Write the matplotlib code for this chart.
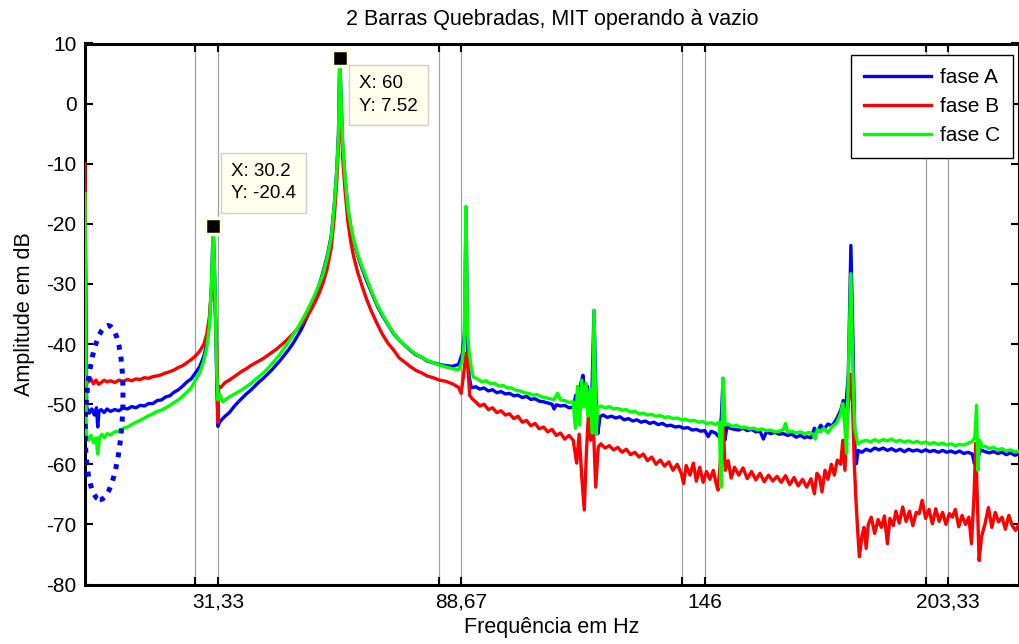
import matplotlib
matplotlib.use("Agg")
import matplotlib.pyplot as plt
from matplotlib.patches import Ellipse
import numpy as np

plt.rcParams['font.family'] = ['Liberation Sans', 'DejaVu Sans']
plt.rcParams['axes.unicode_minus'] = False

# espectro: (frequencia em Hz, amplitude em dB)
fase_a = [
    (0.0, -16.0), (0.4, -50.5), (1.0, -51.5), (1.6, -50.8), (2.2, -51.8), (2.7, -50.6), (3.0, -53.8), (3.3, -51.2),
    (3.8, -50.9), (4.5, -51.4), (5.2, -50.8), (6.0, -51.2), (7.0, -50.9), (8.0, -51.1), (9.0, -50.6), (10.0, -50.8),
    (11.0, -50.4), (12.0, -50.6), (13.0, -50.2), (14.0, -50.3), (15.0, -49.9), (16.0, -49.9), (17.0, -49.4),
    (18.0, -49.3), (19.0, -48.8), (20.0, -48.6), (21.0, -48.0), (22.0, -47.6), (23.0, -47.0), (24.0, -46.3),
    (25.0, -45.8), (26.0, -44.8), (27.0, -43.8), (28.0, -42.0), (28.7, -39.8), (29.3, -36.5), (29.8, -30.0),
    (30.2, -20.4), (30.6, -30.0), (31.0, -45.0), (31.3, -53.7), (31.7, -53.0), (32.3, -52.5), (33.0, -52.0),
    (34.0, -51.4), (35.0, -50.5), (36.0, -49.7), (37.0, -49.0), (38.0, -48.3), (39.0, -47.7), (40.0, -47.0),
    (41.0, -46.3), (42.0, -45.7), (43.0, -45.0), (44.0, -44.3), (45.0, -43.5), (46.0, -42.7), (47.0, -41.8),
    (48.0, -40.9), (49.0, -39.9), (50.0, -38.7), (51.0, -37.5), (52.0, -36.0), (53.0, -34.4), (54.0, -32.6),
    (55.0, -30.5), (56.0, -28.2), (57.0, -25.5), (58.0, -22.0), (58.7, -17.0), (59.3, -11.0), (59.7, -5.0),
    (60.0, 7.52), (60.4, -1.0), (60.7, -7.0), (61.2, -12.0), (61.9, -17.3), (62.6, -20.5), (63.3, -22.9),
    (64.2, -25.2), (65.2, -27.3), (66.3, -29.4), (67.5, -31.4), (68.8, -33.6), (70.0, -35.2), (71.3, -36.7),
    (72.7, -38.3), (74.0, -39.3), (75.3, -40.2), (76.7, -41.1), (78.0, -41.8), (79.3, -42.2), (80.6, -42.8),
    (82.0, -43.1), (83.5, -43.4), (85.0, -43.6), (86.5, -43.7), (88.0, -43.4), (88.9, -41.5), (89.4, -38.0),
    (89.75, -17.5), (90.1, -40.0), (90.5, -45.5), (91.0, -47.3), (92.0, -47.1), (93.0, -47.5), (94.0, -47.3),
    (95.0, -47.8), (96.0, -47.6), (97.0, -48.1), (98.0, -47.9), (99.0, -48.3), (100.0, -48.2), (101.0, -48.6),
    (102.0, -48.5), (103.0, -48.9), (104.0, -48.7), (105.0, -49.2), (106.0, -49.1), (107.0, -49.5), (108.0, -49.6),
    (109.0, -49.8), (110.0, -50.0), (110.5, -50.8), (111.0, -50.1), (112.0, -50.3), (113.0, -50.2), (114.0, -50.6),
    (115.0, -50.5), (115.6, -48.5), (116.2, -51.5), (116.8, -46.5), (117.3, -45.2), (117.8, -49.0), (118.3, -47.0),
    (118.8, -51.0), (119.4, -48.0), (119.9, -34.4), (120.4, -50.0), (120.8, -54.9), (121.3, -52.1), (122.0, -51.8),
    (123.0, -52.2), (124.0, -52.0), (125.0, -52.3), (126.0, -52.1), (127.0, -52.6), (128.0, -52.4), (129.0, -52.8),
    (130.0, -52.6), (131.0, -53.0), (132.0, -52.8), (133.0, -53.2), (134.0, -53.0), (135.0, -53.4), (136.0, -53.2),
    (137.0, -53.6), (138.0, -53.5), (139.0, -53.8), (140.0, -53.7), (141.0, -54.0), (142.0, -53.9), (143.0, -54.3),
    (144.0, -54.2), (145.0, -54.5), (146.0, -54.4), (146.8, -55.4), (147.5, -54.5), (148.5, -54.8), (149.4, -55.5),
    (149.9, -52.0), (150.3, -45.7), (150.7, -56.0), (151.2, -53.8), (152.0, -54.0), (153.0, -54.2), (154.0, -54.3),
    (155.0, -54.0), (156.0, -54.4), (157.0, -54.2), (158.0, -54.6), (159.0, -54.5), (159.8, -55.8), (160.5, -54.6),
    (161.5, -54.9), (162.5, -54.7), (163.5, -55.0), (164.5, -54.9), (165.5, -55.2), (166.5, -55.0), (167.5, -55.5),
    (168.5, -55.2), (169.5, -55.6), (170.0, -55.4), (171.0, -55.6), (171.8, -54.0), (172.5, -54.6), (173.3, -53.5),
    (174.0, -54.2), (175.0, -53.3), (176.0, -53.6), (177.0, -52.5), (178.0, -51.0), (178.6, -49.4), (179.2, -50.5),
    (179.8, -45.0), (180.4, -23.6), (180.9, -40.0), (181.4, -58.5), (181.7, -59.9), (182.1, -57.7), (183.0, -58.0),
    (184.0, -57.5), (185.0, -57.8), (186.0, -57.3), (187.0, -57.6), (188.0, -57.3), (189.0, -57.7), (190.0, -57.4),
    (191.0, -57.8), (192.0, -57.5), (193.0, -57.9), (194.0, -57.5), (195.0, -57.8), (196.0, -57.6), (197.0, -57.9),
    (198.0, -57.6), (199.0, -57.9), (200.0, -57.7), (201.0, -58.0), (202.0, -57.7), (203.0, -58.0), (204.0, -57.8),
    (205.0, -58.1), (206.0, -57.8), (207.0, -58.2), (208.0, -58.0), (209.0, -58.3), (209.5, -59.9), (210.0, -57.0),
    (210.5, -58.5), (211.0, -57.6), (212.0, -57.9), (213.0, -58.1), (214.0, -57.9), (215.0, -58.2), (216.0, -58.0),
    (217.0, -58.4), (218.0, -58.1), (219.0, -58.5), (220.0, -58.3),
]

fase_b = [
    (0.0, -10.0), (0.3, -46.0), (0.8, -46.3), (1.4, -45.8), (2.0, -46.6), (2.6, -46.0), (3.2, -46.7), (3.8, -46.4),
    (4.5, -46.0), (5.2, -46.3), (6.0, -46.1), (7.0, -46.4), (8.0, -46.0), (9.0, -46.2), (10.0, -45.9), (11.0, -46.1),
    (12.0, -45.8), (13.0, -45.9), (14.0, -45.6), (15.0, -45.7), (16.0, -45.4), (17.0, -45.3), (18.0, -45.1),
    (19.0, -44.8), (20.0, -44.6), (21.0, -44.3), (22.0, -43.9), (23.0, -43.6), (24.0, -43.1), (25.0, -42.6),
    (26.0, -42.0), (27.0, -41.2), (28.0, -40.0), (28.7, -38.3), (29.3, -35.5), (29.8, -31.0), (30.2, -29.0),
    (30.6, -33.0), (31.0, -40.0), (31.3, -53.0), (31.5, -47.0), (32.0, -47.2), (33.0, -46.4), (34.0, -46.0),
    (35.0, -45.5), (36.0, -45.0), (37.0, -44.5), (38.0, -44.1), (39.0, -43.6), (40.0, -43.2), (41.0, -42.8),
    (42.0, -42.4), (43.0, -41.9), (44.0, -41.4), (45.0, -40.9), (46.0, -40.3), (47.0, -39.7), (48.0, -39.0),
    (49.0, -38.3), (50.0, -37.5), (51.0, -36.7), (52.0, -35.7), (53.0, -34.6), (54.0, -33.3), (55.0, -31.8),
    (56.0, -30.0), (57.0, -27.6), (58.0, -24.0), (58.7, -19.0), (59.3, -13.0), (59.7, -7.0), (60.0, 5.0),
    (60.4, -3.0), (60.7, -9.0), (61.2, -14.0), (61.9, -19.5), (62.6, -23.0), (63.3, -25.5), (64.2, -28.0),
    (65.2, -30.2), (66.3, -32.5), (67.5, -34.6), (68.8, -36.6), (70.0, -38.3), (71.3, -39.8), (72.7, -41.0),
    (74.0, -42.3), (75.3, -43.0), (76.7, -43.8), (78.0, -44.4), (79.3, -44.8), (80.6, -45.3), (82.0, -45.6),
    (83.5, -46.0), (85.0, -46.2), (86.5, -46.6), (88.0, -47.2), (88.6, -48.2), (89.2, -45.0), (89.75, -41.5),
    (90.2, -44.0), (90.6, -48.5), (91.2, -49.1), (92.0, -49.6), (93.0, -50.3), (94.0, -50.0), (95.0, -50.9),
    (96.0, -50.6), (97.0, -51.4), (98.0, -51.1), (99.0, -51.8), (100.0, -51.6), (101.0, -52.4), (102.0, -52.0),
    (103.0, -53.0), (104.0, -52.7), (105.0, -53.6), (106.0, -53.2), (107.0, -54.1), (108.0, -53.8), (109.0, -54.6),
    (110.0, -54.2), (111.0, -55.2), (112.0, -54.8), (113.0, -55.8), (114.0, -55.2), (115.0, -56.0), (115.8, -59.8),
    (116.4, -55.0), (117.0, -62.0), (117.6, -67.6), (118.1, -58.0), (118.6, -51.5), (119.1, -56.0), (119.6, -51.0),
    (120.3, -63.8), (120.9, -57.1), (121.5, -56.6), (122.5, -57.3), (123.5, -56.9), (124.5, -57.6), (125.5, -57.2),
    (126.5, -58.0), (127.5, -57.5), (128.5, -58.4), (129.5, -58.0), (130.5, -58.8), (131.5, -58.3), (132.5, -59.4),
    (133.5, -58.8), (134.5, -60.0), (135.5, -59.3), (136.5, -60.3), (137.5, -59.6), (138.5, -61.0), (139.5, -60.0),
    (140.5, -61.6), (141.0, -63.2), (141.6, -60.2), (142.5, -61.8), (143.3, -59.8), (144.0, -62.8), (144.8, -60.5),
    (145.6, -63.0), (146.4, -61.2), (147.2, -62.5), (148.0, -61.0), (148.6, -63.0), (149.1, -64.3), (149.6, -60.0),
    (150.3, -53.0), (150.8, -61.0), (151.5, -59.4), (152.2, -62.3), (153.0, -60.5), (154.0, -61.8), (155.0, -60.6),
    (156.0, -62.4), (157.0, -61.2), (158.0, -62.6), (159.0, -61.5), (160.0, -62.9), (161.0, -61.8), (162.0, -62.8),
    (163.0, -62.0), (164.0, -63.0), (165.0, -61.9), (166.0, -63.4), (167.0, -62.2), (168.0, -63.6), (169.0, -62.5),
    (170.0, -63.8), (171.0, -62.4), (171.8, -64.9), (172.4, -61.5), (173.0, -62.1), (173.6, -64.6), (174.3, -61.0),
    (175.0, -62.5), (175.8, -60.0), (176.5, -61.8), (177.2, -59.3), (178.0, -60.0), (178.5, -56.0), (179.0, -61.0),
    (179.5, -53.0), (180.0, -48.0), (180.4, -45.0), (180.8, -50.0), (181.2, -59.9), (181.6, -66.0), (182.0, -71.0),
    (182.4, -75.4), (183.0, -72.0), (183.5, -70.5), (184.0, -74.0), (184.5, -70.0), (185.2, -68.8), (186.0, -71.5),
    (186.8, -69.2), (187.6, -70.5), (188.3, -68.6), (189.0, -73.2), (189.6, -69.0), (190.4, -70.2), (191.0, -67.8),
    (191.8, -69.8), (192.6, -67.1), (193.4, -69.5), (194.2, -67.8), (195.0, -70.2), (195.8, -68.0), (196.5, -68.2),
    (197.2, -66.0), (198.0, -69.0), (198.8, -67.5), (199.6, -69.9), (200.4, -67.4), (201.2, -69.5), (202.0, -68.0),
    (202.8, -70.0), (203.6, -68.2), (204.3, -68.8), (205.0, -67.5), (205.8, -70.4), (206.6, -68.5), (207.4, -70.0),
    (208.2, -68.8), (208.8, -73.2), (209.4, -65.4), (209.8, -56.5), (210.2, -66.0), (210.6, -76.0), (211.2, -72.0),
    (212.0, -69.9), (212.8, -67.2), (213.6, -70.5), (214.4, -68.0), (215.2, -69.6), (216.0, -68.8), (216.8, -70.8),
    (217.6, -68.5), (218.4, -70.2), (219.2, -71.0), (220.0, -70.0),
]

fase_c = [
    (0.0, -15.0), (0.3, -55.0), (0.8, -56.0), (1.4, -55.2), (2.0, -56.4), (2.6, -55.6), (3.0, -58.3), (3.4, -55.6),
    (4.0, -55.0), (4.6, -55.6), (5.2, -54.9), (6.0, -55.1), (7.0, -54.6), (8.0, -54.5), (9.0, -54.0), (10.0, -53.8),
    (11.0, -53.4), (12.0, -53.0), (13.0, -52.7), (14.0, -52.3), (15.0, -51.9), (16.0, -51.6), (17.0, -51.2),
    (18.0, -51.0), (19.0, -50.6), (20.0, -50.2), (21.0, -49.7), (22.0, -49.3), (23.0, -48.7), (24.0, -48.0),
    (25.0, -47.3), (26.0, -46.0), (27.0, -44.8), (28.0, -42.8), (28.7, -40.5), (29.3, -37.0), (29.8, -30.0),
    (30.2, -20.4), (30.6, -30.0), (31.0, -44.0), (31.3, -49.3), (31.8, -48.4), (32.4, -49.6), (33.0, -49.3),
    (34.0, -48.8), (35.0, -48.4), (36.0, -48.0), (37.0, -47.6), (38.0, -47.1), (39.0, -46.6), (40.0, -46.0),
    (41.0, -45.4), (42.0, -44.8), (43.0, -44.1), (44.0, -43.3), (45.0, -42.5), (46.0, -41.6), (47.0, -40.6),
    (48.0, -39.6), (49.0, -38.5), (50.0, -37.4), (51.0, -36.2), (52.0, -34.9), (53.0, -33.5), (54.0, -32.0),
    (55.0, -30.3), (56.0, -28.5), (57.0, -25.8), (58.0, -22.3), (58.7, -17.0), (59.3, -11.3), (59.7, -5.5),
    (60.0, 7.52), (60.4, -0.5), (60.7, -6.5), (61.2, -11.6), (61.9, -17.2), (62.6, -20.3), (63.3, -22.7),
    (64.2, -25.0), (65.2, -27.0), (66.3, -29.0), (67.5, -31.2), (68.8, -33.4), (70.0, -35.0), (71.3, -36.6),
    (72.7, -38.2), (74.0, -39.3), (75.3, -40.2), (76.7, -41.0), (78.0, -41.7), (79.3, -42.2), (80.6, -42.7),
    (82.0, -43.1), (83.5, -43.5), (85.0, -43.8), (86.5, -44.1), (88.0, -44.3), (88.8, -43.0), (89.3, -40.0),
    (89.75, -17.1), (90.1, -38.0), (90.5, -41.5), (91.0, -44.0), (91.5, -45.5), (92.5, -45.8), (93.5, -46.3),
    (94.5, -46.1), (95.5, -46.6), (96.5, -46.5), (97.5, -47.0), (98.5, -46.9), (99.5, -47.3), (100.5, -47.3),
    (101.5, -47.7), (102.5, -47.8), (103.5, -48.1), (104.5, -48.2), (105.5, -48.5), (106.5, -48.4), (107.5, -48.8),
    (108.5, -48.9), (109.5, -49.1), (110.5, -49.2), (111.3, -48.2), (112.0, -49.3), (113.0, -49.4), (114.0, -49.7),
    (115.0, -49.6), (115.5, -54.0), (116.0, -47.0), (116.5, -53.5), (117.0, -46.0), (117.5, -50.5), (118.0, -46.5),
    (118.5, -52.0), (119.0, -47.5), (119.5, -54.8), (119.9, -34.4), (120.4, -55.0), (120.8, -50.5), (121.5, -50.3),
    (122.5, -50.6), (123.5, -50.4), (124.5, -50.8), (125.5, -50.7), (126.5, -51.0), (127.5, -50.9), (128.5, -51.3),
    (129.5, -51.2), (130.5, -51.6), (131.5, -51.5), (132.5, -51.8), (133.5, -51.7), (134.5, -52.0), (135.5, -51.9),
    (136.5, -52.2), (137.5, -52.1), (138.5, -52.4), (139.5, -52.3), (140.5, -52.6), (141.5, -52.5), (142.5, -52.8),
    (143.5, -52.7), (144.5, -53.0), (145.5, -52.9), (146.5, -53.2), (147.5, -53.1), (148.5, -53.4), (149.4, -53.0),
    (149.8, -63.8), (150.3, -45.7), (150.8, -53.5), (151.5, -53.3), (152.5, -53.7), (153.5, -53.5), (154.5, -53.9),
    (155.5, -53.8), (156.5, -54.1), (157.5, -54.0), (158.5, -54.3), (159.5, -54.1), (160.5, -54.4), (161.5, -54.3),
    (162.5, -54.6), (163.5, -54.5), (164.5, -54.2), (165.0, -53.2), (165.5, -54.6), (166.5, -54.5), (167.5, -54.8),
    (168.5, -54.6), (169.5, -54.9), (170.5, -54.7), (171.5, -55.0), (172.0, -55.8), (172.5, -54.2), (173.3, -54.6),
    (174.0, -54.0), (175.0, -54.8), (176.0, -53.7), (177.0, -53.2), (178.0, -51.5), (178.5, -49.9), (179.0, -54.0),
    (179.4, -58.2), (179.8, -45.0), (180.4, -28.3), (180.9, -45.0), (181.3, -54.0), (182.0, -56.6), (183.0, -56.2),
    (184.0, -56.0), (185.0, -56.3), (186.0, -55.9), (187.0, -56.2), (188.0, -55.9), (189.0, -56.1), (190.0, -55.8),
    (191.0, -56.2), (192.0, -56.0), (193.0, -56.3), (194.0, -56.1), (195.0, -56.4), (196.0, -56.2), (197.0, -56.5),
    (198.0, -56.3), (199.0, -56.6), (200.0, -56.4), (201.0, -56.7), (202.0, -56.5), (203.0, -56.8), (204.0, -56.6),
    (205.0, -56.9), (206.0, -56.7), (207.0, -56.8), (208.0, -56.5), (209.0, -56.2), (209.6, -55.5), (210.0, -50.2),
    (210.3, -61.0), (210.7, -56.0), (211.4, -57.1), (212.0, -57.0), (213.0, -57.4), (214.0, -57.2), (215.0, -57.6),
    (216.0, -57.4), (217.0, -57.8), (218.0, -57.6), (219.0, -57.9), (220.0, -57.8),
]

# ticks / grade vertical
xticks = [26.0, 31.33, 83.5, 88.67, 140.7, 146.0, 198.0, 203.33]
xticklabels = ['', '31,33', '', '88,67', '', '146', '', '203,33']
yticks = [-80, -70, -60, -50, -40, -30, -20, -10, 0, 10]

# data tips
tips = [(30.2, -20.4), (60.0, 7.52)]

fig = plt.figure(figsize=(10.19, 6.44), dpi=100)
ax = fig.add_axes([85/1019, 1-584.5/644, 934/1019, 541/644])

for dados, cor, nome in [(fase_a, '#0000ff', 'fase A'), (fase_b, '#ff0000', 'fase B'), (fase_c, '#00ff00', 'fase C')]:
    f, a = zip(*dados)
    ax.plot(f, a, color=cor, lw=2.4, label=nome, zorder=3)

ax.set_xlim(0, 220)
ax.set_ylim(-80, 10)
ax.set_xticks(xticks)
ax.set_xticklabels(xticklabels)
ax.set_yticks(yticks)
ax.grid(True, axis='x', color='#a0a0a0', lw=0.9)
ax.tick_params(direction='in', length=6, width=1.5, top=True, right=True, labelsize=15, pad=6)
for s in ax.spines.values():
    s.set_linewidth(2.2)

ax.set_title('2 Barras Quebradas, MIT operando à vazio', fontsize=15.5, pad=13)
ax.set_xlabel('Frequência em Hz', fontsize=15.5, labelpad=4)
ax.set_ylabel('Amplitude em dB', fontsize=15.5, labelpad=8)

# marcadores dos data tips
for x, y in tips:
    ax.plot(x, y, marker='s', ms=11, color='black', mec='#fffde0', mew=2.5, zorder=5)

caixa = dict(boxstyle='square,pad=0.55', fc='#ffffee', ec='#d0d0c8', lw=1)
ax.text(34.4, -9.9, 'X: 30.2\nY: -20.4', fontsize=13.5, va='top', ha='left', bbox=caixa, linespacing=1.4, zorder=6)
ax.text(64.5, 4.7, 'X: 60\nY: 7.52', fontsize=13.5, va='top', ha='left', bbox=caixa, linespacing=1.4, zorder=6)

# elipse pontilhada destacando a regiao de baixa frequencia
ax.add_patch(Ellipse((4.5, -51.4), width=8.7, height=29.0, angle=-4, fill=False, ec='#0000ff', lw=3.6,
                     ls=(0, (1, 1.4)), zorder=4))

leg = ax.legend(loc='upper right', bbox_to_anchor=(0.9936, 0.978), fontsize=15, handlelength=3.2,
                handletextpad=0.45, labelspacing=0.48, borderpad=0.62, borderaxespad=0,
                fancybox=False, framealpha=1, edgecolor='black')
leg.get_frame().set_linewidth(1.0)

fig.savefig('out.png', dpi=100)
